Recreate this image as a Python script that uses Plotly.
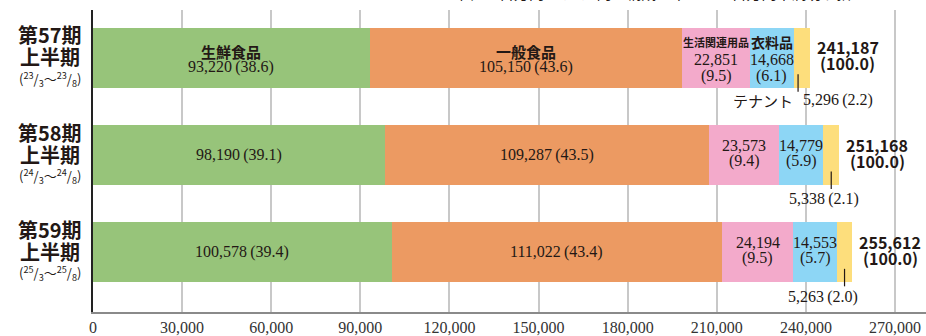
import plotly.graph_objects as go

# Half-year sales by product category (million yen) and share of total (%)
periods = ["第57期", "第58期", "第59期"]
period_years = ["23", "24", "25"]
segment_names = ["生鮮食品", "一般食品", "生活関連用品", "衣料品", "テナント"]

fresh = [93220, 98190, 100578]
general = [105150, 109287, 111022]
living = [22851, 23573, 24194]
clothing = [14668, 14779, 14553]
tenant = [5296, 5338, 5263]

fresh_pct = [38.6, 39.1, 39.4]
general_pct = [43.6, 43.5, 43.4]
living_pct = [9.5, 9.4, 9.5]
clothing_pct = [6.1, 5.9, 5.7]
tenant_pct = [2.2, 2.1, 2.0]

totals = [241187, 251168, 255612]
total_pct = [100.0, 100.0, 100.0]

tick_values = [0, 30000, 60000, 90000, 120000, 150000, 180000, 210000, 240000, 270000]

colors = ["#97C47A", "#EC9A62", "#F3AACB", "#8DD6F5", "#FDDE7C"]
series = [fresh, general, living, clothing, tenant]
shares = [fresh_pct, general_pct, living_pct, clothing_pct, tenant_pct]

SANS = "Noto Sans CJK JP"
SERIF = "Liberation Serif"
INK = "#231815"

ypos = list(range(len(periods)))
fig = go.Figure()
for name, vals, col in zip(segment_names, series, colors):
    fig.add_trace(go.Bar(
        y=ypos, x=vals, name=name, orientation="h",
        marker=dict(color=col, line=dict(width=0)),
        width=0.62, hoverinfo="skip",
    ))

ann = []


def add(x, y, text, size, family, xshift=0, yshift=0, xanchor="center", xref="x"):
    ann.append(dict(x=x, y=y, xref=xref, yref="y", text=text, showarrow=False,
                    xanchor=xanchor, yanchor="middle", xshift=xshift, yshift=yshift,
                    font=dict(size=size, family=family, color=INK)))


def num(v, p):
    return f"{v:,}\u2009({p:.1f})"


for i in ypos:
    starts = []
    acc = 0
    for vals in series:
        starts.append(acc)
        acc += vals[i]
    mids = [s + v[i] / 2 for s, v in zip(starts, series)]

    # fresh & general food: single line, with category name on the first bar
    for k in (0, 1):
        if i == 0:
            add(mids[k], i, f"<b>{segment_names[k]}</b>", 15, SANS, yshift=6.5)
            add(mids[k], i, num(series[k][i], shares[k][i]), 16, SERIF, yshift=-9.5)
        else:
            add(mids[k], i, num(series[k][i], shares[k][i]), 16, SERIF)

    # living goods & clothing: value over share
    for k, nsize in ((2, 11), (3, 14)):
        if i == 0:
            add(mids[k], i, f"<b>{segment_names[k]}</b>", nsize, SANS, yshift=15.5)
            add(mids[k], i, f"{series[k][i]:,}", 16, SERIF, yshift=-1.5)
            add(mids[k], i, f"({shares[k][i]:.1f})", 16, SERIF, yshift=-18.5)
        else:
            add(mids[k], i, f"{series[k][i]:,}", 16, SERIF, yshift=9.5)
            add(mids[k], i, f"({shares[k][i]:.1f})", 16, SERIF, yshift=-6)

    # tenant: leader line and value below the bar
    lx = mids[4] - (1200 if i == 0 else 0)
    fig.add_shape(type="line", xref="x", yref="y", x0=lx, x1=lx,
                  y0=i + 0.17, y1=i + 0.35, line=dict(color=INK, width=1.2))
    tv = num(tenant[i], tenant_pct[i])
    if i == 0:
        add(lx, i, segment_names[4], 15, SANS, xshift=-3, yshift=-42.5, xanchor="right")
        add(lx, i, tv, 16, SERIF, xshift=3, yshift=-42.5, xanchor="left")
    else:
        add(lx, i, tv, 16, SERIF, xshift=(-7 if i == 1 else -22), yshift=-43.5 - (i - 1) * 1.5)

    # total at the end of each bar
    add(totals[i], i, f"<b>{totals[i]:,}</b>", 16, SANS, xshift=38, yshift=10.5)
    add(totals[i], i, f"<b>({total_pct[i]:.1f})</b>", 16, SANS, xshift=38, yshift=-5.5)

    # period label on the left
    px = -0.0516
    add(px, i, f"<b>{periods[i]}</b>", 20, SANS, yshift=23, xref="paper")
    add(px, i, "<b>上半期</b>", 20, SANS, yshift=1, xref="paper")
    yy = period_years[i]
    add(px, i, f"(<sup>{yy}</sup>/<sub>3</sub>〜<sup>{yy}</sup>/<sub>8</sub>)", 13, SANS,
        yshift=-21, xref="paper")

# unit note along the top edge
ann.append(dict(x=0.431, y=1, xref="paper", yref="paper", xanchor="left", yanchor="bottom",
                yshift=5, showarrow=False,
                text="単位：百万円　（　）内は構成比率％　※百万円未満切り捨て",
                font=dict(size=15, family=SANS, color=INK)))

fig.update_layout(
    width=926, height=336,
    margin=dict(l=93, r=0, t=10, b=20),
    paper_bgcolor="white", plot_bgcolor="white",
    barmode="stack", bargap=0, showlegend=False,
    annotations=ann,
    font=dict(family=SANS, color=INK),
    xaxis=dict(
        range=[0, 280400], tickvals=tick_values,
        ticktext=[f"{v:,}" for v in tick_values],
        tickfont=dict(family=SERIF, size=16, color="#333"),
        showgrid=True, gridcolor="#C8C8C8", gridwidth=1.5,
        showline=True, linecolor="#8A8A8A", linewidth=1.5,
        zeroline=False, ticks="", fixedrange=True,
    ),
    yaxis=dict(
        range=[2.614, -0.492], showticklabels=False, showgrid=False,
        zeroline=False, showline=True, linecolor="#222", linewidth=2,
        ticks="", fixedrange=True,
    ),
)

fig.write_html("out.html")
